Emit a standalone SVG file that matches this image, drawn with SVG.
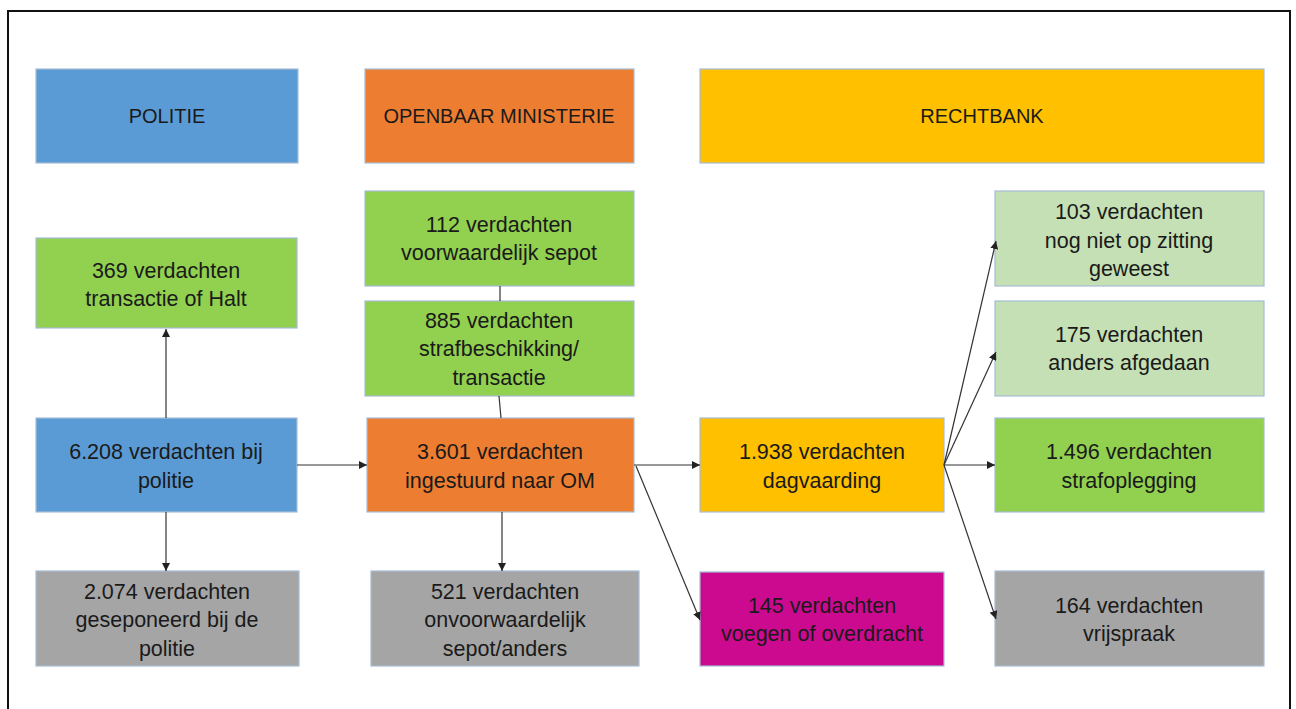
<svg xmlns="http://www.w3.org/2000/svg" width="1296" height="709" viewBox="0 0 1296 709">
<defs>
<style>
.box{stroke:#a7bcd4;stroke-width:1.2}
.blue{fill:#5b9bd5}.orange{fill:#ed7d31}.yellow{fill:#ffc000}.green{fill:#92d050}.lgreen{fill:#c5e0b4}.gray{fill:#a5a5a5}.mag{fill:#cc0a8f}
text{font-family:"Liberation Sans",Arial,sans-serif;font-size:21.5px;fill:#1a1a1a;text-anchor:middle}
text.h{font-size:20px}
.conn line{stroke:#333;stroke-width:1.2}
</style>
<marker id="ah" viewBox="0 0 10 10" refX="10" refY="5" markerWidth="8" markerHeight="8" markerUnits="userSpaceOnUse" orient="auto">
<path d="M0,0 L10,5 L0,10 z" fill="#222"/>
</marker>
</defs>
<rect x="0" y="0" width="1296" height="709" fill="#fff"/>
<rect x="8" y="11" width="1282" height="710" fill="none" stroke="#111" stroke-width="2"/>

<g id="politie"><rect class="box blue" x="36" y="69" width="262" height="94"/><text class="h" x="167" y="123">POLITIE</text></g>
<g id="om"><rect class="box orange" x="365" y="69" width="269" height="94"/><text class="h" x="499" y="123">OPENBAAR MINISTERIE</text></g>
<g id="rechtbank"><rect class="box yellow" x="700" y="69" width="564" height="94"/><text class="h" x="982" y="123">RECHTBANK</text></g>

<g id="n369"><rect class="box green" x="36" y="238" width="261" height="90"/><text x="166" y="278">369 verdachten</text><text x="166" y="306">transactie of Halt</text></g>
<g id="n112"><rect class="box green" x="365" y="191" width="269" height="95"/><text x="499" y="232">112 verdachten</text><text x="499" y="260">voorwaardelijk sepot</text></g>
<g id="n885"><rect class="box green" x="365" y="301" width="269" height="95"/><text x="499" y="328">885 verdachten</text><text x="499" y="356">strafbeschikking/</text><text x="499" y="385">transactie</text></g>
<g id="n6208"><rect class="box blue" x="36" y="418" width="261" height="94"/><text x="166" y="459">6.208 verdachten bij</text><text x="166" y="488">politie</text></g>
<g id="n3601"><rect class="box orange" x="367" y="418" width="267" height="94"/><text x="500" y="459">3.601 verdachten</text><text x="500" y="488">ingestuurd naar OM</text></g>
<g id="n1938"><rect class="box yellow" x="700" y="418" width="244" height="94"/><text x="822" y="459">1.938 verdachten</text><text x="822" y="488">dagvaarding</text></g>
<g id="n103"><rect class="box lgreen" x="995" y="191" width="269" height="95"/><text x="1129" y="219">103 verdachten</text><text x="1129" y="248">nog niet op zitting</text><text x="1129" y="276">geweest</text></g>
<g id="n175"><rect class="box lgreen" x="995" y="301" width="269" height="95"/><text x="1129" y="342">175 verdachten</text><text x="1129" y="370">anders afgedaan</text></g>
<g id="n1496"><rect class="box green" x="995" y="418" width="269" height="94"/><text x="1129" y="459">1.496 verdachten</text><text x="1129" y="488">strafoplegging</text></g>
<g id="n2074"><rect class="box gray" x="36" y="571" width="263" height="95"/><text x="167" y="599">2.074 verdachten</text><text x="167" y="627">geseponeerd bij de</text><text x="167" y="656">politie</text></g>
<g id="n521"><rect class="box gray" x="371" y="571" width="268" height="95"/><text x="505" y="599">521 verdachten</text><text x="505" y="627">onvoorwaardelijk</text><text x="505" y="656">sepot/anders</text></g>
<g id="n145"><rect class="box mag" x="700" y="572" width="244" height="94"/><text x="822" y="613">145 verdachten</text><text x="822" y="641">voegen of overdracht</text></g>
<g id="n164"><rect class="box gray" x="995" y="571" width="269" height="95"/><text x="1129" y="613">164 verdachten</text><text x="1129" y="641">vrijspraak</text></g>

<g id="connectors" class="conn">
<line x1="166" y1="418" x2="166" y2="329" marker-end="url(#ah)"/>
<line x1="297" y1="465" x2="367" y2="465" marker-end="url(#ah)"/>
<line x1="166" y1="512" x2="166" y2="571" marker-end="url(#ah)"/>
<line x1="500" y1="286" x2="500" y2="301"/>
<line x1="499" y1="396" x2="501" y2="418"/>
<line x1="502" y1="512" x2="502" y2="571" marker-end="url(#ah)"/>
<line x1="634" y1="465" x2="700" y2="465" marker-end="url(#ah)"/>
<line x1="636" y1="466" x2="700" y2="620" marker-end="url(#ah)"/>
<line x1="944" y1="465" x2="996" y2="241" marker-end="url(#ah)"/>
<line x1="944" y1="465" x2="996" y2="352" marker-end="url(#ah)"/>
<line x1="944" y1="465" x2="995" y2="465" marker-end="url(#ah)"/>
<line x1="944" y1="465" x2="996" y2="619" marker-end="url(#ah)"/>
</g>
</svg>
